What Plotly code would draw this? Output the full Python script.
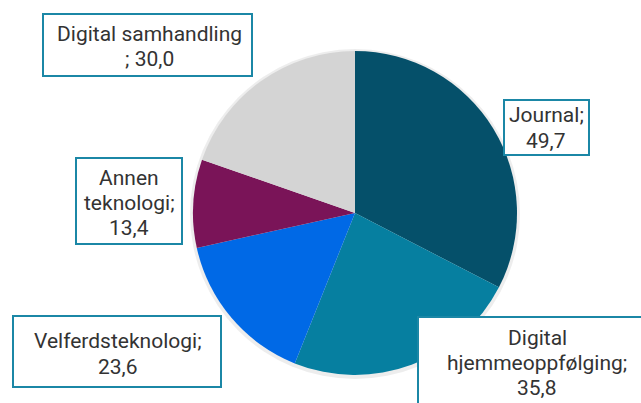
import plotly.graph_objects as go

categories = ["Journal", "Digital hjemmeoppfølging", "Velferdsteknologi", "Annen teknologi", "Digital samhandling"]
values = [49.7, 35.8, 23.6, 13.4, 30.0]
colors = ["#05506A", "#067FA0", "#0069E6", "#7A1458", "#D4D4D4"]
label_lines = [
    ["Journal;", "49,7"],
    ["Digital", "hjemmeoppfølging;", "35,8"],
    ["Velferdsteknologi;", "23,6"],
    ["Annen", "teknologi;", "13,4"],
    ["Digital samhandling", "; 30,0"],
]

W, H = 641, 403
fig = go.Figure()

# faint shadow behind pie
cx, cy, r = 355, 213, 162
fig.add_shape(type="circle", xref="paper", yref="paper", layer="below",
              x0=(cx - r - 3) / W, x1=(cx + r + 3) / W, y0=1 - (cy + r + 4) / H, y1=1 - (cy - r - 2) / H,
              fillcolor="rgba(0,0,0,0.07)", line=dict(width=0))

fig.add_trace(go.Pie(
    labels=categories, values=values, sort=False, direction="clockwise", rotation=0,
    marker=dict(colors=colors, line=dict(width=0)),
    textinfo="none", hoverinfo="label+value", showlegend=False,
    domain=dict(x=[(cx - r) / W, (cx + r) / W], y=[1 - (cy + r) / H, 1 - (cy - r) / H]),
))

# label boxes (pixel edges) and text line centres
boxes = [
    (503, 590, 99, 156),
    (417, 662, 316, 420),
    (12, 222, 315, 388),
    (75, 183, 157, 245),
    (42, 253, 13, 77),
]
text_pos = [
    (546, [114, 140]),
    (537, [337, 362, 387]),
    (118, [340, 366]),
    (129, [177, 202, 227]),
    (149, [33, 58]),
]
for lines, (x0, x1, y0, y1), (tx, tys) in zip(label_lines, boxes, text_pos):
    fig.add_shape(type="rect", xref="paper", yref="paper", layer="above",
                  x0=(x0 + 1) / W, x1=(x1 - 1) / W, y0=1 - (y1 - 1) / H, y1=1 - (y0 + 1) / H,
                  fillcolor="white", line=dict(color="#1B87A6", width=2))
    for line, ty in zip(lines, tys):
        fig.add_annotation(x=tx / W, y=1 - (ty + 1) / H, xref="paper", yref="paper",
                           xanchor="center", yanchor="middle", text=line, showarrow=False,
                           font=dict(family="Roboto", size=21, color="#333333"))

fig.update_layout(width=W, height=H, margin=dict(l=0, r=0, t=0, b=0),
                  paper_bgcolor="white", plot_bgcolor="white")
fig.write_html("out.html", config={"displayModeBar": False},
               post_script="document.body.style.margin='0';")
